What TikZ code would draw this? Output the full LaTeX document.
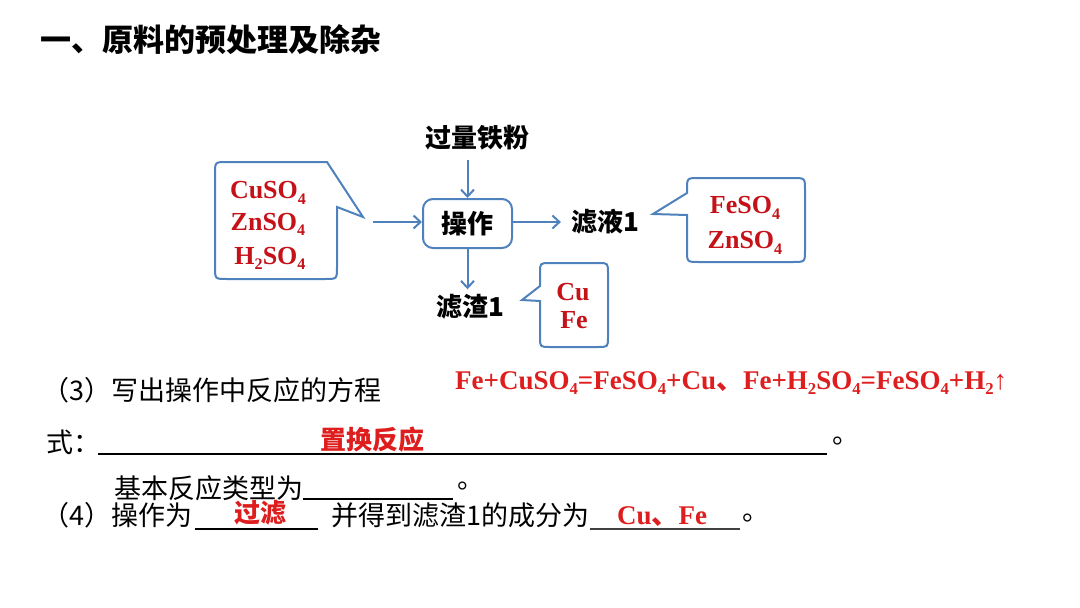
\documentclass[tikz,border=0pt]{standalone}
\usepackage{fontspec}
\setmainfont{Liberation Serif}
\newfontfamily\cjk{Noto Sans CJK SC}
\usetikzlibrary{arrows.meta}
\definecolor{lineblue}{RGB}{79,129,189}
\definecolor{chemred}{RGB}{196,18,24}
\definecolor{ansred}{RGB}{222,30,30}
\newcommand\chsub[1]{\raisebox{-0.22em}{\scalebox{0.62}{#1}}}
\tikzset{
  lbl/.style={inner sep=0pt, font=\cjk\bfseries\fontsize{26}{30}\selectfont},
  chem/.style={inner sep=0pt, anchor=base, text=chemred, font=\bfseries\fontsize{26}{30}\selectfont},
  body/.style={inner sep=0pt, anchor=west, font=\cjk\fontsize{27}{30}\selectfont},
  anscjk/.style={inner sep=0pt, text=ansred, font=\cjk\bfseries\fontsize{26}{30}\selectfont},
  ansrm/.style={inner sep=0pt, anchor=base, text=ansred, font=\bfseries\fontsize{27}{30}\selectfont},
  callout/.style={draw=lineblue, line width=2pt, line join=miter},
  opbox/.style={draw=lineblue, line width=2pt, rounded corners=10pt, minimum width=89pt, minimum height=49pt},
  flow/.style={draw=lineblue, line width=2pt, -{Straight Barb[length=7pt,width=13pt,line width=2pt]}},
  blank/.style={draw=black, line width=1.5pt}
}
\begin{document}
\begin{tikzpicture}[x=1pt,y=-1pt]
\fill[white] (0,0) rectangle (1080,608);
\useasboundingbox (0,0) rectangle (1080,608);

% title
\node[lbl, anchor=west, font=\cjk\bfseries\fontsize{31}{34}\selectfont] (title) at (40,40) {一、原料的预处理及除杂};

% flow diagram
\node[lbl] (fe) at (477,138) {过量铁粉};
\node[lbl, opbox] (op) at (467.5,223.5) {\raisebox{1.5pt}{操作}};
\node[lbl] (filt) at (605,222) {滤液1};
\node[lbl] (res) at (470,307) {滤渣1};
\coordinate (inL) at (373,222);

\draw[flow, shorten <=9pt] (fe.south -| op.north) -- (op.north);
\draw[flow, shorten >=5pt] (op.south) -- (op.south |- res.north);
\draw[flow, shorten >=10pt] (op.east |- filt.west) -- (filt.west);
\draw[flow] (inL) -- (inL -| op.west);

% left callout
\draw[callout] (327,162) -- (227,162) .. controls (215,162) .. (215,174) -- (215,267) .. controls (215,279) .. (227,279) -- (325,279) .. controls (337,279) .. (337,267) -- (337,207) -- (363,217) -- cycle;
\node[chem] (c1) at (268,198.6) {CuSO\chsub{4}};
\node[chem] (c2) at (268,230) {ZnSO\chsub{4}};
\node[chem] (c3) at (270,264) {H\chsub{2}SO\chsub{4}};

% right callout
\draw[callout] (687,215) -- (687,250) .. controls (687,262) .. (699,262) -- (793,262) .. controls (805,262) .. (805,250) -- (805,190) .. controls (805,178) .. (793,178) -- (699,178) .. controls (687,178) .. (687,190) -- (687,193) -- (653,214) -- cycle;
\node[chem] (f1) at (745,213.6) {FeSO\chsub{4}};
\node[chem] (f2) at (745,248.6) {ZnSO\chsub{4}};

% residue callout
\draw[callout] (540,301) -- (540,337) .. controls (540,347) .. (550,347) -- (598,347) .. controls (608,347) .. (608,337) -- (608,273) .. controls (608,263) .. (598,263) -- (550,263) .. controls (540,263) .. (540,273) -- (540,286) -- (522,300) -- cycle;
\node[chem] (r1) at (573,300.6) {Cu};
\node[chem] (r2) at (574,328.6) {Fe};

% question text
\node[body] (q3) at (42,390) {（3）写出操作中反应的方程};
\node[ansrm, anchor=base west] (eq) at (455,389) {Fe+CuSO\chsub{4}=FeSO\chsub{4}+Cu{\cjk 、}Fe+H\chsub{2}SO\chsub{4}=FeSO\chsub{4}+H\chsub{2}↑};
\node[body] (shi) at (46,442) {式：};
\draw[blank] (98,454) -- (827,454);
\node[body] (p1) at (832,441) {。};
\node[anscjk] (a1) at (372,440) {置换反应};

\node[body] (q3b) at (114,488) {基本反应类型为};
\draw[blank] (303,499) -- (453,499);
\node[body] (p2) at (457,486) {。};

\node[body] (q4) at (42,515) {（4）操作为};
\draw[blank] (195,529) -- (318,529);
\node[anscjk] (a2) at (260,513) {过滤};
\node[body] (q4b) at (331,515) {并得到滤渣1的成分为};
\draw[blank, draw=black!75] (590,529) -- (740,529);
\node[ansrm] (a3) at (662,524) {Cu{\cjk 、}Fe};
\node[body] (p3) at (742,518) {。};
\end{tikzpicture}
\end{document}
